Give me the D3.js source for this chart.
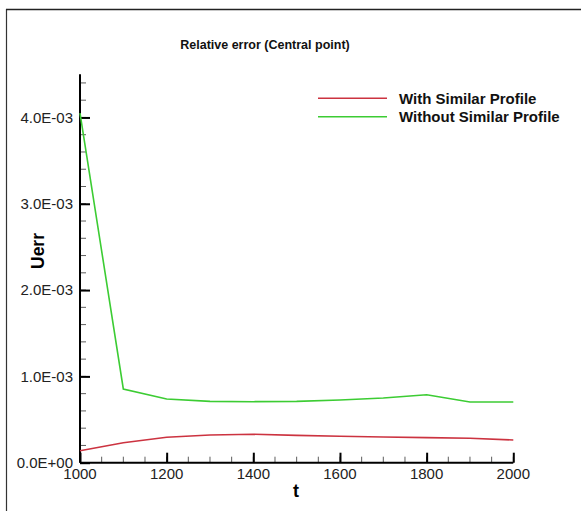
<!DOCTYPE html>
<html>
<head>
<meta charset="utf-8">
<script src="https://cdn.jsdelivr.net/npm/d3@7"></script>
<style>
  html, body { margin: 0; padding: 0; background: #fff; }
  svg { display: block; font-family: "Liberation Sans", Arial, sans-serif; }
</style>
</head>
<body>
<svg id="chart" width="581" height="511"></svg>
<script>
// Time steps and relative error at the central point
const times = [1000, 1100, 1200, 1300, 1400, 1500, 1600, 1700, 1800, 1900, 2000];
const withProfile = [0.139e-3, 0.232e-3, 0.294e-3, 0.321e-3, 0.329e-3, 0.317e-3, 0.306e-3, 0.298e-3, 0.290e-3, 0.283e-3, 0.263e-3];
const withoutProfile = [4.05e-3, 0.854e-3, 0.738e-3, 0.710e-3, 0.707e-3, 0.710e-3, 0.727e-3, 0.750e-3, 0.788e-3, 0.703e-3, 0.703e-3];
const seriesNames = ["With Similar Profile", "Without Similar Profile"];
const seriesColors = ["#cc3340", "#3ccc33"];
const yTicks = [0, 1e-3, 2e-3, 3e-3, 4e-3];
const xTicks = [1000, 1200, 1400, 1600, 1800, 2000];

const svg = d3.select("#chart");

// Outer frame (left and top edges)
svg.append("line").attr("x1", 6.5).attr("x2", 6.5).attr("y1", 9).attr("y2", 511)
  .attr("stroke", "#333").attr("stroke-width", 1.2);
svg.append("line").attr("x1", 6).attr("x2", 581).attr("y1", 9.5).attr("y2", 9.5)
  .attr("stroke", "#222").attr("stroke-width", 1.6);

const x = d3.scaleLinear().domain([1000, 2000]).range([80, 513.3]);
const y = d3.scaleLinear().domain([0, 4.5e-3]).range([462.7, 74.3]);

const fmtExp = v => {
  if (v === 0) return "0.0E+00";
  const e = Math.floor(Math.log10(v));
  const m = v / Math.pow(10, e);
  const es = (e < 0 ? "-" : "+") + String(Math.abs(e)).padStart(2, "0");
  return m.toFixed(1) + "E" + es;
};

// Minor ticks
const yMinor = d3.range(0, 4.5e-3 + 1e-9, 0.2e-3);
svg.append("g").selectAll("line").data(yMinor).join("line")
  .attr("x1", x(1000)).attr("x2", x(1000) + 6)
  .attr("y1", d => y(d)).attr("y2", d => y(d))
  .attr("stroke", "#333").attr("stroke-width", 0.8);
const xMinor = d3.range(1000, 2001, 50);
svg.append("g").selectAll("line").data(xMinor).join("line")
  .attr("x1", d => x(d)).attr("x2", d => x(d))
  .attr("y1", y(0)).attr("y2", y(0) - 6)
  .attr("stroke", "#333").attr("stroke-width", 0.8);

// Y axis
const yAxis = svg.append("g").attr("transform", `translate(${x(1000)},0)`)
  .call(d3.axisRight(y).tickValues(yTicks).tickSize(10).tickFormat(""));
yAxis.select(".domain").attr("stroke", "#000").attr("stroke-width", 2)
  .attr("d", `M0,${y(4.5e-3)}V${y(0)}`);
yAxis.selectAll(".tick line").attr("stroke", "#000").attr("stroke-width", 2);
svg.append("g").selectAll("text").data(yTicks).join("text")
  .attr("x", 73).attr("y", d => y(d)).attr("dy", "0.35em")
  .attr("text-anchor", "end").attr("font-size", 15).attr("fill", "#222")
  .text(fmtExp);

// X axis
const xAxis = svg.append("g").attr("transform", `translate(0,${y(0)})`)
  .call(d3.axisTop(x).tickValues(xTicks).tickSize(10).tickFormat(""));
xAxis.select(".domain").attr("stroke", "#000").attr("stroke-width", 2)
  .attr("d", `M${x(1000)},0H${x(2000)}`);
xAxis.selectAll(".tick line").attr("stroke", "#000").attr("stroke-width", 2);
svg.append("g").selectAll("text").data(xTicks).join("text")
  .attr("x", d => x(d)).attr("y", 473.7).attr("dy", "0.35em")
  .attr("text-anchor", "middle").attr("font-size", 15).attr("fill", "#222")
  .text(d => d);

// Axis titles and chart title
svg.append("text").attr("x", 296).attr("y", 491).attr("dy", "0.35em")
  .attr("text-anchor", "middle").attr("font-size", 18).attr("font-weight", "bold")
  .text("t");
svg.append("text").attr("transform", "translate(38,251) rotate(-90)").attr("dy", "0.35em")
  .attr("text-anchor", "middle").attr("font-size", 17.5).attr("font-weight", "bold")
  .text("Uerr");
svg.append("text").attr("x", 265).attr("y", 45).attr("dy", "0.35em")
  .attr("text-anchor", "middle").attr("font-size", 12.5).attr("font-weight", "bold")
  .attr("fill", "#111")
  .text("Relative error (Central point)");

// Data lines
const line = d3.line().x((d, i) => x(times[i])).y(d => y(d));
[withProfile, withoutProfile].forEach((vals, k) => {
  svg.append("path").datum(vals).attr("d", line)
    .attr("fill", "none").attr("stroke", seriesColors[k]).attr("stroke-width", 1.6);
});

// Legend
const legend = svg.append("g");
seriesNames.forEach((name, k) => {
  const ly = 98.3 + k * 18.4;
  legend.append("line").attr("x1", 318).attr("x2", 387).attr("y1", ly).attr("y2", ly)
    .attr("stroke", seriesColors[k]).attr("stroke-width", 1.6);
  legend.append("text").attr("x", 399).attr("y", ly).attr("dy", "0.35em")
    .attr("font-size", 15).attr("font-weight", "bold").attr("fill", "#111")
    .text(name);
});
</script>
</body>
</html>
